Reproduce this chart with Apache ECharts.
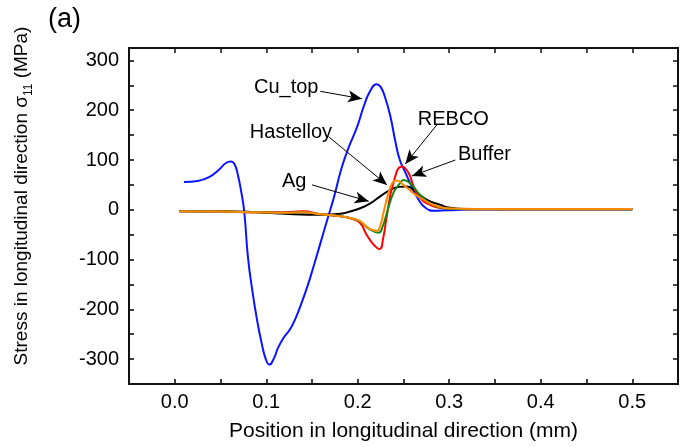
<!DOCTYPE html>
<html>
<head>
<meta charset="utf-8">
<style>
    html, body { margin: 0; padding: 0; background: #fff; }
    #main { width: 683px; height: 447px; }
</style>
<script src="https://cdn.jsdelivr.net/npm/echarts@6/dist/echarts.min.js"></script>
</head>
<body>
<div id="main"></div>
<script>
    // 数据 (x: mm, y: MPa)
    var cuTop = [[0.010,56],[0.025,58],[0.038,66],[0.048,80],[0.056,94],[0.0615,97],[0.0655,91],[0.069,70],[0.0725,38],[0.076,-5],[0.080,-95],[0.085,-165],[0.090,-222],[0.095,-268],[0.0995,-300],[0.1035,-311],[0.108,-300],[0.113,-277],[0.119,-257],[0.126,-240],[0.132,-218],[0.138,-190],[0.145,-154],[0.152,-112],[0.160,-62],[0.167,-18],[0.174,25],[0.182,82],[0.190,125],[0.199,165],[0.207,210],[0.214,240],[0.2203,252],[0.225,247],[0.230,225],[0.236,185],[0.241,138],[0.246,100],[0.252,75],[0.259,47],[0.2665,20],[0.274,4],[0.283,-2],[0.298,-1],[0.32,0.5],[0.40,1],[0.50,1]];
    var ag = [[0.005,-3],[0.05,-3],[0.09,-5],[0.13,-9],[0.16,-10],[0.181,-8],[0.1925,-3],[0.2027,3],[0.2137,13],[0.2246,27],[0.2356,40],[0.245,46],[0.2538,47],[0.262,38],[0.2757,20],[0.290,10],[0.301,4],[0.32,1.5],[0.40,1],[0.50,1]];
    var rebco = [[0.005,-3],[0.05,-3.5],[0.09,-5],[0.12,-5],[0.14,-3],[0.16,-9],[0.181,-13],[0.195,-19],[0.2027,-27],[0.2097,-50],[0.2173,-70],[0.2238,-79],[0.228,-55],[0.2317,-13],[0.239,54],[0.2483,87],[0.2556,74],[0.261,47],[0.268,24],[0.279,10],[0.294,3],[0.32,1],[0.40,1],[0.50,1]];
    var buffer = [[0.005,-3],[0.05,-3.5],[0.09,-5],[0.12,-6],[0.14,-5],[0.16,-9],[0.181,-13],[0.195,-18],[0.2027,-24],[0.212,-38],[0.2228,-46],[0.227,-35],[0.2317,-7],[0.239,34],[0.2465,54],[0.250,60],[0.259,50],[0.268,30],[0.279,13],[0.294,3],[0.32,1],[0.40,1],[0.50,1]];
    var hastelloy = [[0.005,-3],[0.05,-3.5],[0.09,-5],[0.12,-6],[0.14,-5],[0.16,-9],[0.181,-13],[0.195,-18],[0.2027,-23],[0.2118,-37],[0.217,-41],[0.221,-42],[0.2245,-33],[0.228,-7],[0.2337,34],[0.239,57],[0.2422,59],[0.250,50],[0.261,33],[0.272,20],[0.2866,7],[0.301,2.5],[0.33,1.5],[0.40,1.5],[0.50,1.5]];

    // 标注: 文字中心 / 箭头起点 / 箭头终点
    var noteNames = ['Cu_top', 'Hastelloy', 'Ag', 'REBCO', 'Buffer'];
    var notePos = [[0.1218,245],[0.127,155],[0.1305,57],[0.3045,181],[0.3385,112]];
    var arrowFrom = [[0.159,238],[0.168,147],[0.150,50],[0.2866,171],[0.3067,100]];
    var arrowTo = [[0.2046,223],[0.232,50],[0.212,17],[0.252,92],[0.2593,68]];

    var font = "'Liberation Sans', Arial, sans-serif";
    var myChart = echarts.init(document.getElementById('main'));

    function xLabel(v) {
        var r = Math.round(v * 100);
        return (r % 10 === 0 && r >= 0 && r <= 50) ? (r / 100).toFixed(1) : '';
    }
    function yLabel(v) {
        return (v % 100 === 0 && Math.abs(v) <= 300) ? String(v) : '';
    }

    function lineSeries(name, data, color, z) {
        return {
            name: name, type: 'line', data: data, z: z,
            showSymbol: false, smooth: 0.5,
            lineStyle: { color: color, width: 2 }
        };
    }

    var notes = [], arrows = [];
    for (var i = 0; i < noteNames.length; i++) {
        notes.push({ name: noteNames[i], value: notePos[i] });
        arrows.push([{ coord: arrowFrom[i] }, { coord: arrowTo[i] }]);
    }

    var option = {
        animation: false,
        backgroundColor: '#fff',
        title: {
            text: '(a)', left: 43, top: 1,
            textStyle: { fontFamily: font, fontSize: 27, fontWeight: 'normal', color: '#000' }
        },
        grid: {
            left: 129, right: 5, top: 48, bottom: 63, outerBoundsMode: 'none',
            show: true, borderColor: '#111111', borderWidth: 2, backgroundColor: 'rgba(0,0,0,0)', z: 20
        },
        xAxis: [{
            type: 'value', min: -0.05, max: 0.55, interval: 0.05,
            name: 'Position in longitudinal direction (mm)',
            nameLocation: 'middle', nameGap: 37,
            nameTextStyle: { fontFamily: font, fontSize: 21, color: '#000' },
            axisLine: { show: true, onZero: false, lineStyle: { color: '#000', width: 1.5 } },
            axisTick: { show: true, inside: true, length: 5, lineStyle: { color: '#000', width: 1.5 } },
            splitLine: { show: false },
            axisLabel: { formatter: xLabel, margin: 8, fontFamily: font, fontSize: 20, color: '#000' }
        }, {
            type: 'value', position: 'top', min: -0.05, max: 0.55, interval: 0.05, z: 30,
            axisLine: { show: true, onZero: false, lineStyle: { color: '#111111', width: 2 } },
            axisTick: { show: true, inside: true, length: 5, lineStyle: { color: '#111111', width: 1.5 } },
            splitLine: { show: false },
            axisLabel: { show: false }
        }],
        yAxis: [{
            type: 'value', min: -350, max: 325, interval: 50,
            axisLine: { show: true, onZero: false, lineStyle: { color: '#000', width: 1.5 } },
            axisTick: { show: true, inside: true, length: 5, lineStyle: { color: '#000', width: 1.5 } },
            splitLine: { show: false },
            axisLabel: { formatter: yLabel, margin: 10, fontFamily: font, fontSize: 20, color: '#000' }
        }, {
            type: 'value', position: 'right', min: -350, max: 325, interval: 50, z: 30,
            axisLine: { show: true, onZero: false, lineStyle: { color: '#111111', width: 2 } },
            axisTick: { show: true, inside: true, length: 5, lineStyle: { color: '#111111', width: 1.5 } },
            splitLine: { show: false },
            axisLabel: { show: false }
        }],
        graphic: [{
            type: 'text', x: 22, y: 196, rotation: Math.PI / 2,
            style: {
                text: 'Stress in longitudinal direction σ{sub|11} (MPa)',
                font: '19px ' + font, fill: '#000',
                align: 'center', verticalAlign: 'middle', lineHeight: 26,
                rich: { sub: { fontSize: 12, fontFamily: font, lineHeight: 12, verticalAlign: 'bottom' } }
            }
        }],
        series: [
            lineSeries('Cu_top', cuTop, '#0a14ff', 2),
            lineSeries('Ag', ag, '#000000', 3),
            lineSeries('REBCO', rebco, '#ff0000', 4),
            lineSeries('Buffer', buffer, '#108a10', 5),
            lineSeries('Hastelloy', hastelloy, '#ff8a00', 6),
            {
                type: 'scatter', data: notes, symbolSize: 1, z: 10,
                xAxisIndex: 1, yAxisIndex: 1,
                itemStyle: { color: 'transparent', opacity: 1 },
                label: {
                    show: true, position: 'inside', formatter: '{b}',
                    fontFamily: font, fontSize: 20, color: '#000', opacity: 1, textBorderWidth: 0
                },
                markLine: {
                    silent: true, symbol: ['none', 'arrow'], symbolSize: [9, 14],
                    label: { show: false },
                    lineStyle: { color: '#000', width: 1, type: 'solid', opacity: 1 },
                    data: arrows
                }
            }
        ]
    };
    myChart.setOption(option);
</script>
</body>
</html>
